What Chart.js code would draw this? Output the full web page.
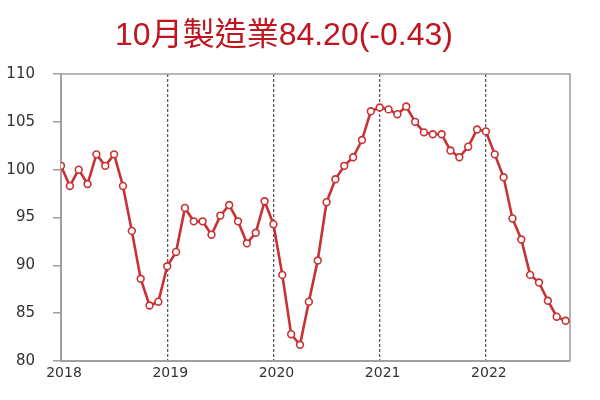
<!DOCTYPE html>
<html>
<head>
<meta charset="utf-8">
<script src="https://cdn.jsdelivr.net/npm/chart.js@4.4.1/dist/chart.umd.min.js"></script>
<style>
  html, body { margin: 0; padding: 0; background: #fff; }
  #wrap { position: relative; width: 600px; height: 400px; }
  #title { position: absolute; left: 0; top: 14px; width: 568px; text-align: center;
           font-family: "Liberation Sans", "Noto Sans CJK TC", sans-serif; font-size: 32px;
           color: #C0141E; line-height: 40px; white-space: nowrap; }
  canvas { position: absolute; left: 0; top: 0; }
</style>
</head>
<body>
<div id="wrap">
  <canvas id="c" width="600" height="400"></canvas>
  <div id="title">10月製造業84.20(-0.43)</div>
</div>
<script>
// Monthly index, Jan 2018 - Oct 2022
const values2018 = [100.4, 98.3, 100.0, 98.5, 101.6, 100.4, 101.6, 98.3, 93.6, 88.6, 85.8, 86.2];
const values2019 = [89.9, 91.4, 96.0, 94.6, 94.6, 93.2, 95.2, 96.3, 94.6, 92.3, 93.4, 96.7];
const values2020 = [94.3, 89.0, 82.8, 81.7, 86.2, 90.5, 96.6, 99.0, 100.4, 101.3, 103.1, 106.1];
const values2021 = [106.5, 106.3, 105.8, 106.6, 105.0, 103.9, 103.7, 103.7, 102.0, 101.3, 102.4, 104.2];
const values2022 = [104.0, 101.6, 99.2, 94.9, 92.7, 89.0, 88.2, 86.3, 84.63, 84.20];
const yearLabels = ['2018', '2019', '2020', '2021', '2022'];
const yTicks = [80, 85, 90, 95, 100, 105, 110];

const series = [].concat(values2018, values2019, values2020, values2021, values2022);
const points = series.map((v, i) => ({ x: i, y: v }));

const framePlugin = {
  id: 'frame',
  beforeDatasetsDraw(chart) {
    const { ctx, chartArea: a } = chart;
    ctx.save();
    ctx.strokeStyle = '#a0a0a0';
    ctx.lineWidth = 1.6;
    ctx.beginPath();
    ctx.moveTo(a.left, a.top);
    ctx.lineTo(a.right, a.top);
    ctx.lineTo(a.right, a.bottom);
    ctx.stroke();
    ctx.restore();
  }
};

new Chart(document.getElementById('c'), {
  type: 'line',
  data: {
    datasets: [{
      data: points,
      borderColor: '#C83234',
      borderWidth: 2.6,
      pointRadius: 3.4,
      pointBorderWidth: 1.6,
      pointBackgroundColor: '#ffffff',
      pointBorderColor: '#C83234',
      tension: 0
    }]
  },
  options: {
    responsive: false,
    animation: false,
    devicePixelRatio: 1,
    layout: { padding: { top: 74, right: 30, left: 0, bottom: 0 } },
    plugins: { legend: { display: false }, tooltip: { enabled: false }, title: { display: false } },
    scales: {
      x: {
        type: 'linear',
        min: 0,
        max: 57.5,
        afterFit(s) { s.height = 39; },
        afterBuildTicks(s) { s.ticks = yearLabels.map((_, i) => ({ value: i * 12 })); },
        ticks: {
          callback: (v) => yearLabels[Math.round(v / 12)],
          font: { family: 'DejaVu Sans', size: 14 },
          color: '#333',
          padding: 4,
          labelOffset: 3,
          maxRotation: 0,
          autoSkip: false
        },
        grid: {
          drawTicks: false,
          color: (c) => (c.index === 0 ? 'rgba(0,0,0,0)' : '#5a5a5a'),
          lineWidth: 1.3
        },
        border: { display: true, color: '#a0a0a0', width: 2, dash: [3, 2] }
      },
      y: {
        min: 80,
        max: 110,
        afterFit(s) { s.width = 61; },
        afterBuildTicks(s) { s.ticks = yTicks.map(v => ({ value: v })); },
        ticks: {
          font: { family: 'DejaVu Sans', size: 15 },
          color: '#333',
          padding: 18
        },
        grid: {
          drawOnChartArea: false,
          drawTicks: true,
          tickLength: 8,
          color: '#a0a0a0',
          lineWidth: 1.5
        },
        border: { display: true, color: '#a0a0a0', width: 2 }
      }
    }
  },
  plugins: [framePlugin]
});
</script>
</body>
</html>
